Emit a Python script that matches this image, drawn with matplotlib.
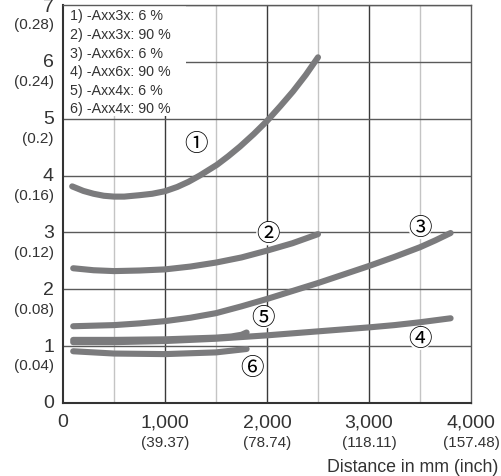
import matplotlib.pyplot as plt
from matplotlib.patches import Rectangle
import matplotlib.transforms as mtransforms

plt.rcParams['font.family'] = ['Liberation Sans', 'DejaVu Sans']

# curve data (distance in mm, value)
x1 = [90, 200, 300, 400, 500, 600, 750, 875, 1000, 1120, 1230, 1340, 1510,
      1620, 1735, 1870, 2000, 2130, 2255, 2380, 2500]
y1 = [3.81, 3.73, 3.68, 3.645, 3.63, 3.63, 3.655, 3.68, 3.725, 3.8, 3.89, 4.0,
      4.19, 4.34, 4.51, 4.73, 4.96, 5.22, 5.48, 5.77, 6.08]
x2 = [100, 300, 500, 750, 1000, 1250, 1500, 1750, 2000, 2250, 2500]
y2 = [2.37, 2.335, 2.32, 2.33, 2.35, 2.4, 2.47, 2.56, 2.68, 2.81, 2.97]
x3 = [100, 500, 750, 1000, 1250, 1500, 1750, 2000, 2250, 2500, 2750, 3000,
      3250, 3500, 3650, 3800]
y3 = [1.35, 1.37, 1.40, 1.44, 1.50, 1.58, 1.70, 1.83, 1.97, 2.11, 2.26, 2.41,
      2.57, 2.74, 2.86, 2.99]
x4 = [100, 500, 1000, 1500, 2000, 2500, 3000, 3250, 3500, 3800]
y4 = [1.07, 1.07, 1.09, 1.13, 1.19, 1.26, 1.33, 1.37, 1.42, 1.49]
x5 = [100, 500, 1000, 1500, 1650, 1750, 1800]
y5 = [1.11, 1.11, 1.12, 1.15, 1.17, 1.20, 1.24]
x6 = [100, 500, 1000, 1500, 1800]
y6 = [0.91, 0.87, 0.86, 0.89, 0.95]

curves = [(x1, y1), (x2, y2), (x3, y3), (x4, y4), (x5, y5), (x6, y6)]
marks = ['\u2460', '\u2461', '\u2462', '\u2463', '\u2464', '\u2465']
mark_x = [1300, 2010, 3500, 3500, 1960, 1853]
mark_y = [4.56, 2.98, 3.09, 1.14, 1.51, 0.63]

legend_lines = ['1) -Axx3x: 6 %', '2) -Axx3x: 90 %', '3) -Axx6x: 6 %',
                '4) -Axx6x: 90 %', '5) -Axx4x: 6 %', '6) -Axx4x: 90 %']

x_ticks = [0, 1000, 2000, 3000, 4000]
x_main = ['0', '1,000', '2,000', '3,000', '4,000']
x_sub = ['', '(39.37)', '(78.74)', '(118.11)', '(157.48)']
y_ticks = [0, 1, 2, 3, 4, 5, 6, 7]
y_sub = ['', '(0.04)', '(0.08)', '(0.12)', '(0.16)', '(0.2)', '(0.24)', '(0.28)']

fig = plt.figure(figsize=(5.01, 4.77), dpi=100)
ax = fig.add_axes([63 / 501, 73 / 477, 408 / 501, 398 / 477])
ax.set_xlim(0, 4000)
ax.set_ylim(0, 7)

# grid
for xv in [500, 1500, 2500, 3500]:
    ax.axvline(xv, color='#c4c4c4', lw=1.0, zorder=1)
for xv in [1000, 2000, 3000]:
    ax.axvline(xv, color='#3a3a3a', lw=1.0, zorder=1)
for yv in y_ticks[1:]:
    ax.axhline(yv, color='#5a5a5a', lw=1.0, zorder=1)

for side in ['top', 'right']:
    ax.spines[side].set_color('#5a5a5a')
    ax.spines[side].set_linewidth(1.0)
for side in ['left', 'bottom']:
    ax.spines[side].set_color('#333333')
    ax.spines[side].set_linewidth(1.5)

ax.set_xticks([])
ax.set_yticks([])

for xs, ys in curves:
    ax.plot(xs, ys, color='#7b7b7d', lw=4.4, solid_capstyle='round',
            solid_joinstyle='round', zorder=3)

for m, mx, my in zip(marks, mark_x, mark_y):
    ax.text(mx, my, m, fontsize=17, ha='center', va='center', color='#000000',
            family=['Noto Sans CJK JP', 'DejaVu Sans'], zorder=4,
            bbox=dict(boxstyle='circle,pad=0.0', fc='white', ec='none'))

# legend box
ax.add_patch(Rectangle((0, 5.05), 1205, 1.95, facecolor='white', edgecolor='none', zorder=2))
for i, s in enumerate(legend_lines):
    ax.text(65, 6.82 - i * 0.328, s, fontsize=10.3, color='#333333', va='center', zorder=5)

# tick labels
ty = mtransforms.blended_transform_factory(ax.transAxes, ax.transData)
off = mtransforms.ScaledTranslation(-9 / 100, 0, fig.dpi_scale_trans)
for yv, sub in zip(y_ticks, y_sub):
    # the top label is nudged down a touch so it stays inside the figure
    ypos = yv - 0.035 if yv == 7 else yv
    ax.text(0, ypos, str(yv), transform=ty + off, ha='right', va='center',
            fontsize=14, color='#333333', clip_on=False)
    if sub:
        ax.text(0, yv - 0.34, sub, transform=ty + off, ha='right', va='center',
                fontsize=11, color='#333333', clip_on=False)

tx = mtransforms.blended_transform_factory(ax.transData, ax.transAxes)
for xv, a, b in zip(x_ticks, x_main, x_sub):
    ax.text(xv, -19 / 398, a, transform=tx, ha='center', va='center',
            fontsize=14, color='#333333', clip_on=False)
    if b:
        ax.text(xv, -39 / 398, b, transform=tx, ha='center', va='center',
                fontsize=11, color='#333333', clip_on=False)

fig.text(498 / 501, 1 - 468 / 477, 'Distance in mm (inch)', ha='right', va='center',
         fontsize=12.8, color='#333333')

fig.savefig('out.png', dpi=100)
